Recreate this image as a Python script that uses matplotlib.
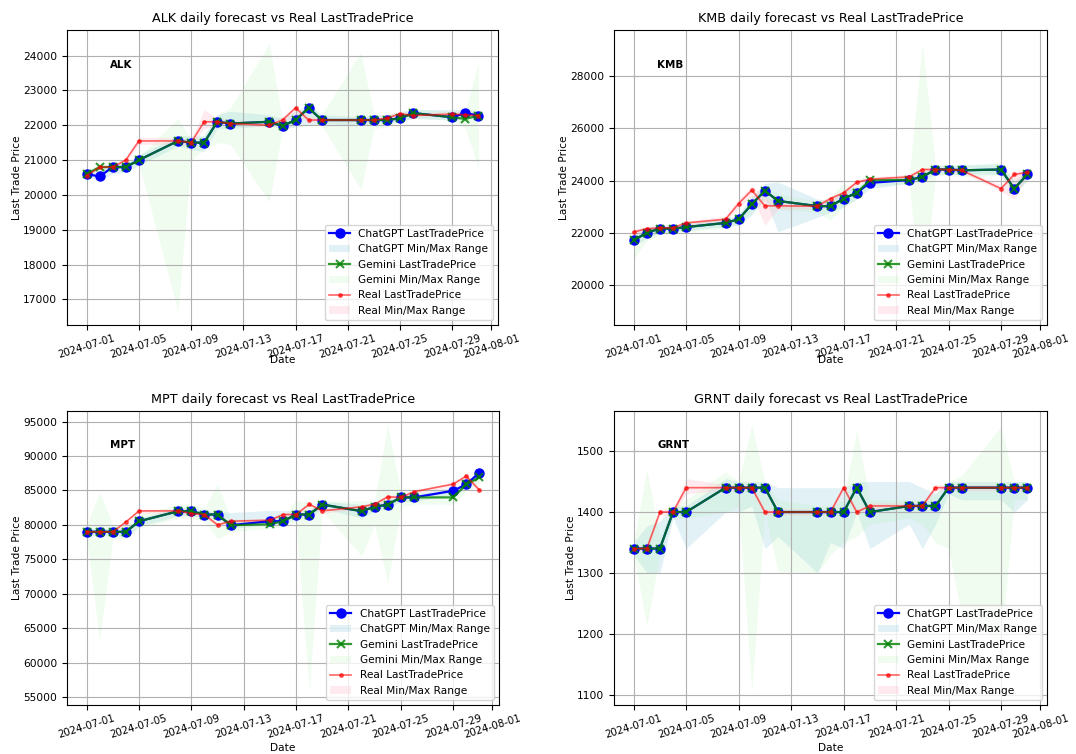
import matplotlib
matplotlib.use("Agg")
import matplotlib.pyplot as plt
import matplotlib.dates as mdates
import pandas as pd

plt.rcParams['font.family'] = ['DejaVu Sans']
plt.rcParams['font.size'] = 7.7

dates = ['2024-07-01', '2024-07-02', '2024-07-03', '2024-07-04', '2024-07-05',
         '2024-07-08', '2024-07-09', '2024-07-10', '2024-07-11', '2024-07-12',
         '2024-07-15', '2024-07-16', '2024-07-17', '2024-07-18', '2024-07-19',
         '2024-07-22', '2024-07-23', '2024-07-24', '2024-07-25', '2024-07-26',
         '2024-07-29', '2024-07-30', '2024-07-31']

# ---------------- ALK ----------------
alk_chatgpt = [20600, 20530, 20800, 20800, 21000, 21550, 21500, 21500, 22100, 22050, 22100, 21980,
               22150, 22500, 22150, 22150, 22150, 22150, 22200, 22350, 22230, 22350, 22280]
alk_chatgpt_min = [20500, 20450, 20600, 20650, 20850, 21400, 21300, 21250, 21900, 21900, 22000, 21900,
                   21950, 22000, 22050, 22000, 22050, 22050, 22100, 22200, 22150, 22200, 22200]
alk_chatgpt_max = [20700, 20700, 20900, 20900, 21150, 21700, 21700, 21700, 22300, 22400, 22300, 22200,
                   22400, 22600, 22300, 22250, 22300, 22300, 22400, 22450, 22450, 22450, 22400]
alk_gemini = [20600, 20800, 20800, 20800, 21000, 21550, 21500, 21500, 22100, 22050, 22100, 21980,
              22150, 22500, 22150, 22150, 22150, 22150, 22200, 22350, 22230, 22180, 22280]
alk_gemini_min = [20500, 20700, 20700, 20700, 20900, 16650, 21000, 21300, 21500, 21450, 19800, 21900,
                  22000, 22300, 22000, 20150, 21900, 21950, 22100, 22200, 22150, 21900, 20800]
alk_gemini_max = [20700, 20900, 20900, 20900, 21100, 22200, 21600, 21700, 22300, 22500, 24350, 22100,
                  22300, 22600, 22300, 24100, 22300, 22300, 22350, 22450, 22400, 22400, 23800]
alk_real = [20550, 20800, 20800, 21000, 21550, 21550, 21500, 22100, 22100, 22050, 22000, 22150,
            22500, 22150, 22150, 22150, 22150, 22200, 22330, 22280, 22320, 22300, 22280]
alk_real_min = [20500, 20750, 20750, 20950, 21450, 21450, 21400, 21900, 22000, 22000, 21950, 22050,
                22300, 22100, 22100, 22100, 22100, 22150, 22250, 22250, 22250, 22250, 22250]
alk_real_max = [20650, 20850, 20850, 21050, 21650, 21650, 21600, 22450, 22200, 22150, 22100, 22250,
                22550, 22250, 22200, 22200, 22200, 22300, 22400, 22350, 22400, 22400, 22350]

# ---------------- KMB ----------------
kmb_chatgpt = [21720, 22020, 22170, 22170, 22230, 22390, 22530, 23100, 23620, 23230, 23030, 23030,
               23320, 23540, 23920, 24030, 24150, 24430, 24430, 24400, 24430, 23700, 24240]
kmb_chatgpt_min = [21500, 21800, 22000, 22050, 22100, 22250, 22300, 22700, 23300, 22050, 22600, 22800,
                   23000, 23300, 23700, 23900, 24000, 24250, 24250, 24250, 24250, 23500, 24000]
kmb_chatgpt_max = [21900, 22200, 22300, 22300, 22350, 22550, 22700, 23400, 23900, 23950, 23300, 23250,
                   23600, 23800, 24050, 24150, 24300, 24600, 24600, 24600, 24650, 24000, 24400]
kmb_gemini = [21720, 22020, 22170, 22170, 22230, 22390, 22530, 23100, 23620, 23230, 23030, 23030,
              23320, 23540, 24020, 24030, 24150, 24430, 24430, 24400, 24430, 23700, 24240]
kmb_gemini_min = [21000, 21700, 21950, 22000, 22050, 22200, 22350, 22800, 23200, 22900, 22800, 22500,
                  23000, 23300, 23800, 23900, 19000, 24200, 24200, 24150, 24200, 23500, 24000]
kmb_gemini_max = [22100, 22200, 22300, 22300, 22400, 22550, 22700, 23400, 23800, 23500, 23200, 23400,
                  23900, 23700, 24100, 24150, 29250, 24600, 24600, 24600, 24700, 24000, 24400]
kmb_real = [22040, 22170, 22200, 22200, 22390, 22530, 23130, 23640, 23040, 23040, 23030, 23320,
            23540, 23940, 24060, 24150, 24430, 24430, 24430, 24400, 23700, 24240, 24320]
kmb_real_min = [21950, 22100, 22150, 22150, 22300, 22450, 22950, 23400, 22300, 22900, 22950, 23200,
                23450, 23850, 23950, 24050, 24350, 24350, 24350, 24300, 23600, 23300, 24200]
kmb_real_max = [22150, 22250, 22300, 22300, 22450, 22650, 23300, 23800, 23400, 23150, 23150, 23400,
                23650, 24050, 24150, 24250, 24500, 24500, 24500, 24450, 23850, 24350, 24400]

# ---------------- MPT ----------------
mpt_chatgpt = [79000, 79000, 79000, 79000, 80530, 82000, 82000, 81510, 81510, 79960, 80540, 80540,
               81510, 81510, 82960, 82000, 82630, 82960, 83990, 83990, 84960, 85880, 87580]
mpt_chatgpt_min = [78500, 78500, 78500, 78300, 79800, 81300, 81400, 81000, 81000, 79500, 80000, 80000,
                   81000, 81000, 82400, 81000, 82000, 82400, 83400, 83400, 84400, 85300, 87000]
mpt_chatgpt_max = [79500, 79500, 79500, 79600, 81000, 82500, 82600, 82000, 82000, 81800, 82100, 82100,
                   82000, 82200, 83400, 83000, 83200, 83500, 84500, 84500, 85500, 86400, 88000]
mpt_gemini = [79000, 79000, 79000, 79000, 80530, 82000, 82000, 81510, 81510, 79960, 80100, 80540,
              81510, 81510, 82960, 82000, 82630, 82960, 83990, 83990, 84000, 85880, 86900]
mpt_gemini_min = [78000, 63200, 78000, 78000, 79500, 81000, 81000, 80500, 78000, 79000, 79500, 79800,
                  80500, 55800, 82000, 75500, 80000, 71500, 82500, 83000, 83000, 85000, 86000]
mpt_gemini_max = [80000, 84800, 80000, 80000, 81500, 83000, 83000, 82500, 86000, 80800, 80800, 81200,
                  83600, 83200, 83500, 83500, 83500, 94600, 84500, 84500, 85000, 86500, 87500]
mpt_real = [79000, 79000, 79000, 80440, 82040, 82040, 81650, 81500, 80000, 80540, 80690, 81510,
            81510, 83010, 82040, 82630, 83010, 84080, 83990, 84820, 85930, 87100, 85060]
mpt_real_min = [78800, 78800, 78800, 80100, 81700, 81700, 81300, 81200, 79700, 80200, 80400, 81200,
                81200, 82700, 81700, 82300, 82700, 83700, 83700, 84500, 85600, 86700, 84700]
mpt_real_max = [79200, 79200, 79200, 80700, 82300, 82300, 81900, 81800, 80300, 80800, 80900, 81800,
                81800, 83300, 82300, 82900, 83300, 84400, 84300, 85100, 86200, 87400, 85400]

# ---------------- GRNT ----------------
grnt_chatgpt = [1340, 1340, 1340, 1400, 1400, 1440, 1440, 1440, 1440, 1400, 1400, 1400,
                1400, 1440, 1400, 1410, 1410, 1410, 1440, 1440, 1440, 1440, 1440]
grnt_chatgpt_min = [1330, 1300, 1300, 1390, 1340, 1400, 1400, 1410, 1340, 1360, 1300, 1350,
                    1340, 1400, 1340, 1380, 1340, 1380, 1430, 1420, 1420, 1400, 1420]
grnt_chatgpt_max = [1350, 1377, 1385, 1410, 1410, 1455, 1450, 1450, 1450, 1440, 1440, 1440,
                    1440, 1450, 1450, 1450, 1440, 1430, 1450, 1450, 1450, 1450, 1450]
grnt_gemini = [1340, 1340, 1340, 1400, 1400, 1440, 1440, 1440, 1440, 1400, 1400, 1400,
               1400, 1440, 1400, 1410, 1410, 1410, 1440, 1440, 1440, 1440, 1440]
grnt_gemini_min = [1330, 1213, 1330, 1390, 1390, 1400, 1410, 1105, 1400, 1302, 1300, 1330,
                   1350, 1360, 1380, 1390, 1380, 1350, 1340, 1230, 1180, 1420, 1420]
grnt_gemini_max = [1350, 1470, 1360, 1410, 1420, 1466, 1450, 1544, 1450, 1420, 1410, 1410,
                   1420, 1535, 1420, 1420, 1420, 1430, 1450, 1460, 1541, 1450, 1450]
grnt_real = [1340, 1340, 1400, 1400, 1440, 1440, 1440, 1440, 1400, 1400, 1400, 1400,
             1440, 1400, 1410, 1410, 1410, 1440, 1440, 1440, 1440, 1440, 1440]
grnt_real_min = [1335, 1335, 1395, 1395, 1430, 1435, 1435, 1435, 1395, 1395, 1395, 1395,
                 1435, 1395, 1405, 1405, 1405, 1435, 1435, 1435, 1435, 1435, 1435]
grnt_real_max = [1345, 1345, 1405, 1405, 1455, 1445, 1445, 1445, 1405, 1405, 1405, 1405,
                 1445, 1405, 1415, 1415, 1415, 1445, 1445, 1445, 1445, 1445, 1445]

stocks = ['ALK', 'KMB', 'MPT', 'GRNT']
series = {
    'ALK': (alk_chatgpt, alk_chatgpt_min, alk_chatgpt_max, alk_gemini, alk_gemini_min, alk_gemini_max,
            alk_real, alk_real_min, alk_real_max),
    'KMB': (kmb_chatgpt, kmb_chatgpt_min, kmb_chatgpt_max, kmb_gemini, kmb_gemini_min, kmb_gemini_max,
            kmb_real, kmb_real_min, kmb_real_max),
    'MPT': (mpt_chatgpt, mpt_chatgpt_min, mpt_chatgpt_max, mpt_gemini, mpt_gemini_min, mpt_gemini_max,
            mpt_real, mpt_real_min, mpt_real_max),
    'GRNT': (grnt_chatgpt, grnt_chatgpt_min, grnt_chatgpt_max, grnt_gemini, grnt_gemini_min, grnt_gemini_max,
             grnt_real, grnt_real_min, grnt_real_max),
}

x = pd.to_datetime(dates)

fig = plt.figure(figsize=(10.76, 7.54), dpi=100)
rects = [
    [67 / 1076, 1 - 325 / 754, 431 / 1076, 295 / 754],
    [614 / 1076, 1 - 325 / 754, 433 / 1076, 295 / 754],
    [67 / 1076, 1 - 705 / 754, 432 / 1076, 294 / 754],
    [614 / 1076, 1 - 705 / 754, 433 / 1076, 294 / 754],
]
# vertical position (axes fraction, top of text) of the "Date" label per panel
date_label_y = [-0.101, -0.101, -0.128, -0.128]

for name, rect, dly in zip(stocks, rects, date_label_y):
    ax = fig.add_axes(rect)
    cg, cg_lo, cg_hi, gm, gm_lo, gm_hi, rl, rl_lo, rl_hi = series[name]
    ax.plot(x, cg, color='blue', marker='o', markersize=6.5, linewidth=1.6, label='ChatGPT LastTradePrice')
    ax.fill_between(x, cg_lo, cg_hi, color='lightblue', alpha=0.35, linewidth=0, label='ChatGPT Min/Max Range')
    ax.plot(x, gm, color='green', marker='x', markersize=6, markeredgewidth=1.5, linewidth=1.6, alpha=0.8,
            label='Gemini LastTradePrice')
    ax.fill_between(x, gm_lo, gm_hi, color='lightgreen', alpha=0.13, linewidth=0, label='Gemini Min/Max Range')
    ax.plot(x, rl, color='red', marker='.', markersize=5, linewidth=1.2, alpha=0.6, label='Real LastTradePrice')
    ax.fill_between(x, rl_lo, rl_hi, color='pink', alpha=0.3, linewidth=0, label='Real Min/Max Range')

    ax.set_title(f'{name} daily forecast vs Real LastTradePrice', fontsize=9.2)
    ax.set_xlabel('Date')
    ax.xaxis.set_label_coords(0.5, dly)
    ax.set_ylabel('Last Trade Price', labelpad=1)
    ax.text(0.1, 0.9, name, transform=ax.transAxes, fontweight='bold', va='top', fontsize=7.4)
    ax.grid(True)
    ax.xaxis.set_major_locator(mdates.DayLocator(bymonthday=[1, 5, 9, 13, 17, 21, 25, 29]))
    ax.xaxis.set_major_formatter(mdates.DateFormatter('%Y-%m-%d'))
    ax.tick_params(axis='x', labelsize=7.4, pad=2)
    for lbl in ax.get_xticklabels():
        lbl.set_rotation(17)
    ax.legend(loc='lower right', fontsize=7.6)

fig.savefig('out.png', dpi=100)
